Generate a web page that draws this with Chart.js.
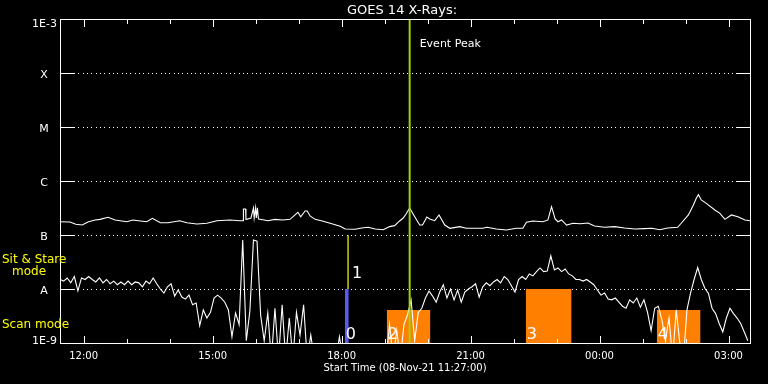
<!DOCTYPE html>
<html>
<head>
<meta charset="utf-8">
<script src="https://cdn.jsdelivr.net/npm/chart.js@4.4.0/dist/chart.umd.min.js"></script>
<style>
  html, body { margin: 0; padding: 0; background: #000; }
  #wrap { width: 768px; height: 384px; }
</style>
</head>
<body>
<div id="wrap"><canvas id="goes" width="768" height="384"></canvas></div>
<script>
// times are minutes after the start time 08-Nov-21 11:27:00
const tickMinutes = [33, 213, 393, 573, 753, 933];
const tickLabels = ['12:00', '15:00', '18:00', '21:00', '00:00', '03:00'];
const yTickVals = [1e-9, 1e-8, 1e-7, 1e-6, 1e-5, 1e-4, 1e-3];
const yTickLabels = ['1E-9', 'A', 'B', 'C', 'M', 'X', '1E-3'];

// long channel (1-8 A)
const upperTimes = [0, 14, 22, 31, 39, 49, 56, 67, 77, 93,
  102, 112, 121, 129, 140, 151, 167, 177, 191, 205,
  219, 237, 251, 255.5, 256, 259, 259.5, 266.5, 270, 271,
  273, 274, 275.5, 277, 283, 290, 300, 311, 321, 332,
  336, 342, 345, 349, 356, 366, 377, 391, 398, 412,
  421, 430, 440, 451, 460, 467, 474, 479, 483, 488,
  492, 498, 502, 506, 512, 516, 523, 529, 537, 544,
  558, 567, 590, 596, 609, 623, 637, 646, 651, 660,
  674, 681, 686, 691, 695, 700, 707, 716, 726, 737,
  746, 760, 774, 788, 802, 816, 826, 837, 848, 862,
  867, 877, 884, 888, 891, 895, 902, 914, 921, 928,
  937, 946, 956, 963];
const upperFlux = [1.76e-7, 1.74e-7, 1.58e-7, 1.53e-7, 1.74e-7, 1.9e-7, 1.95e-7, 2.13e-7, 1.9e-7, 1.76e-7,
  1.9e-7, 1.82e-7, 1.76e-7, 2.04e-7, 1.69e-7, 1.69e-7, 1.84e-7, 1.69e-7, 1.6e-7, 1.65e-7,
  1.84e-7, 1.9e-7, 1.84e-7, 1.84e-7, 3.03e-7, 3.03e-7, 1.94e-7, 2.06e-7, 3.16e-7, 2.06e-7,
  3.2e-7, 2.06e-7, 3.2e-7, 1.98e-7, 1.92e-7, 1.84e-7, 1.95e-7, 1.9e-7, 1.95e-7, 2.63e-7,
  2.18e-7, 2.78e-7, 2.78e-7, 2.25e-7, 1.95e-7, 1.82e-7, 1.65e-7, 1.45e-7, 1.29e-7, 1.28e-7,
  1.35e-7, 1.39e-7, 1.29e-7, 1.25e-7, 1.43e-7, 1.49e-7, 1.82e-7, 2.06e-7, 2.45e-7, 3.16e-7,
  2.55e-7, 1.88e-7, 1.53e-7, 1.53e-7, 2.15e-7, 1.98e-7, 1.84e-7, 2.35e-7, 1.53e-7, 1.33e-7,
  1.43e-7, 1.33e-7, 1.33e-7, 1.39e-7, 1.29e-7, 1.24e-7, 1.33e-7, 1.33e-7, 1.72e-7, 1.82e-7,
  1.76e-7, 1.9e-7, 3.34e-7, 1.98e-7, 1.76e-7, 1.9e-7, 1.53e-7, 1.65e-7, 1.62e-7, 1.67e-7,
  1.47e-7, 1.39e-7, 1.43e-7, 1.35e-7, 1.29e-7, 1.31e-7, 1.33e-7, 1.25e-7, 1.35e-7, 1.39e-7,
  1.65e-7, 2.35e-7, 3.59e-7, 4.78e-7, 5.57e-7, 4.45e-7, 3.86e-7, 2.9e-7, 2.52e-7, 1.95e-7,
  2.35e-7, 2.18e-7, 1.9e-7, 1.84e-7];

// short channel (0.5-4 A), one sample every 5 min; 5e-10 = below the plot floor
const lowerStep = 5;
const lowerFlux = [
  1.5e-8, 1.4e-8, 1.6e-8, 1.3e-8, 1.7e-8, 9.2e-9, 1.6e-8, 1.5e-8, 1.7e-8, 1.5e-8,
  1.35e-8, 1.6e-8, 1.3e-8, 1.5e-8, 1.25e-8, 1.4e-8, 1.2e-8, 1.35e-8, 1.2e-8, 1.4e-8,
  1.2e-8, 1.35e-8, 1.3e-8, 1.1e-8, 1.4e-8, 1.25e-8, 1.6e-8, 1.25e-8, 1.0e-8, 8.4e-9,
  1.1e-8, 1.25e-8, 7.4e-9, 9.6e-9, 7.1e-9, 6.5e-9, 7.7e-9, 5.1e-9, 5.5e-9, 2.1e-9,
  4.1e-9, 2.9e-9, 3.7e-9, 6.8e-9, 7.7e-9, 6.8e-9, 5.7e-9, 4.1e-9, 1.3e-9, 3.6e-9,
  2.2e-9, 8.1e-8, 1.1e-9, 3.9e-9, 8.1e-8, 7.7e-8, 3.3e-9, 1.1e-9, 3.6e-9, 5e-10,
  4.4e-9, 5e-10, 5.1e-9, 5e-10, 2.9e-9, 5e-10, 3.7e-9, 1.4e-9, 5.1e-9, 5e-10,
  1.4e-9, 5e-10, 5e-10, 5e-10, 5e-10, 5e-10, 5e-10, 5e-10, 1.3e-9, 5e-10,
  5e-10, 5e-10, 5e-10, 5e-10, 5e-10, 5e-10, 5e-10, 5e-10, 5e-10, 5e-10,
  5e-10, 5e-10, 2.2e-9, 5e-10, 1.7e-9, 5e-10, 2.2e-9, 3.3e-9, 6.3e-9, 1.1e-9,
  3.7e-9, 4.4e-9, 6.8e-9, 9.2e-9, 7.4e-9, 5.7e-9, 8.8e-9, 1.2e-8, 6.8e-9, 1.0e-8,
  6.3e-9, 9.6e-9, 5.7e-9, 8.8e-9, 1.0e-8, 1.1e-8, 1.25e-8, 7.1e-9, 1.1e-8, 1.3e-8,
  1.15e-8, 1.35e-8, 1.5e-8, 1.3e-8, 1.7e-8, 1.5e-8, 1.15e-8, 8.8e-9, 1.5e-8, 1.7e-8,
  1.5e-8, 1.9e-8, 1.75e-8, 2.1e-8, 2.45e-8, 2.1e-8, 2.15e-8, 4.1e-8, 2.25e-8, 2.45e-8,
  2.1e-8, 2.35e-8, 1.9e-8, 1.75e-8, 1.5e-8, 1.5e-8, 1.4e-8, 1.5e-8, 1.35e-8, 1.2e-8,
  9.6e-9, 7.7e-9, 8.4e-9, 6.5e-9, 6.3e-9, 6.8e-9, 5.7e-9, 4.8e-9, 4.4e-9, 6.3e-9,
  5.5e-9, 6.8e-9, 4.6e-9, 6.3e-9, 3.7e-9, 1.7e-9, 4.4e-9, 4.8e-9, 2.7e-9, 1.1e-9,
  2.9e-9, 5e-10, 4.1e-9, 1.0e-9, 5e-10, 4.1e-9, 8.4e-9, 1.5e-8, 2.5e-8, 1.5e-8,
  1.03e-8, 8.3e-9, 4.4e-9, 3.5e-9, 2.3e-9, 1.6e-9, 2.9e-9, 4.4e-9, 3.5e-9, 2.9e-9,
  2.3e-9, 1.6e-9, 1.1e-9];

// scan-mode boxes
const boxStart = [456, 650, 833];
const boxEnd = [517, 714, 894];
const boxTop = [4.1e-9, 1e-8, 4.1e-9];
const boxLabel = ['2', '3', '4'];

// sit & stare markers
const stareBar = { start: 397.5, end: 403, top: 1e-8, label: '0' };
const stareLine = { time: 402, from: 1e-8, to: 1e-7, label: '1' };

const eventPeakTime = 488;
const xMax = 963;

const FONT = '"DejaVu Sans", sans-serif';

const boxSets = boxStart.map((s, i) => ({
  data: [{ x: s, y: boxTop[i] }, { x: boxEnd[i], y: boxTop[i] }],
  borderWidth: 0,
  backgroundColor: '#ff8000',
  fill: 'start',
  pointRadius: 0,
  order: 4
}));

const datasets = [
  ...boxSets,
  {
    data: [{ x: stareBar.start, y: stareBar.top }, { x: stareBar.end, y: stareBar.top }],
    borderWidth: 0,
    backgroundColor: '#5a5af0',
    fill: 'start',
    pointRadius: 0,
    order: 3
  },
  {
    data: upperTimes.map((t, i) => ({ x: t, y: upperFlux[i] })),
    borderColor: '#ffffff',
    borderWidth: 1.1,
    pointRadius: 0,
    fill: false,
    order: 2
  },
  {
    data: lowerFlux.map((v, i) => ({ x: i * lowerStep, y: v })),
    borderColor: '#ffffff',
    borderWidth: 1.1,
    pointRadius: 0,
    fill: false,
    order: 2
  },
  {
    data: [{ x: stareLine.time, y: stareLine.from }, { x: stareLine.time, y: stareLine.to }],
    borderColor: '#ffff00',
    borderWidth: 1.2,
    pointRadius: 0,
    fill: false,
    order: 1
  },
  {
    data: [{ x: eventPeakTime, y: 1e-9 }, { x: eventPeakTime, y: 1e-3 }],
    borderColor: '#a0d010',
    borderWidth: 2,
    pointRadius: 0,
    fill: false,
    order: 0
  }
];

const goesDecor = {
  id: 'goesDecor',
  beforeDraw(chart) {
    const c = chart.ctx;
    c.save();
    c.fillStyle = '#000';
    c.fillRect(0, 0, chart.width, chart.height);
    c.restore();
  },
  beforeDatasetsDraw(chart) {
    const { ctx, chartArea: a, scales: { y } } = chart;
    ctx.save();
    ctx.fillStyle = '#fff';
    yTickVals.slice(1, -1).forEach(v => {
      const py = Math.round(y.getPixelForValue(v));
      for (let x = a.left + 14; x < a.right - 12; x += 4.33) ctx.fillRect(Math.round(x), py, 1, 1);
    });
    ctx.restore();
  },
  afterDatasetsDraw(chart) {
    const { ctx, chartArea: a, scales: { x, y } } = chart;
    const L = Math.round(a.left), R = Math.round(a.right);
    const T = Math.round(a.top), B = Math.round(a.bottom);
    ctx.save();
    ctx.fillStyle = '#fff';
    // frame
    ctx.fillRect(L, T, R - L + 1, 1);
    ctx.fillRect(L, B, R - L + 1, 1);
    ctx.fillRect(L, T, 1, B - T + 1);
    ctx.fillRect(R, T, 1, B - T + 1);
    // y ticks, both sides
    yTickVals.slice(1, -1).forEach(v => {
      const py = Math.round(y.getPixelForValue(v));
      ctx.fillRect(L, py, 14, 1);
      ctx.fillRect(R - 13, py, 14, 1);
    });
    // x ticks, hourly, top and bottom
    for (let m = tickMinutes[0]; m <= xMax; m += 60) {
      const px = Math.round(x.getPixelForValue(m));
      const len = tickMinutes.includes(m) ? 7 : 4;
      ctx.fillRect(px, B - len, 1, len);
      ctx.fillRect(px, T + 1, 1, len);
    }
    // y labels
    ctx.font = '11px ' + FONT;
    ctx.textBaseline = 'alphabetic';
    yTickVals.forEach((v, i) => {
      const py = y.getPixelForValue(v);
      const lab = yTickLabels[i];
      let by = py + 4.5;
      if (i === 0) by = py + 0.5;
      if (i === yTickVals.length - 1) by = py + 8;
      if (lab.length === 1) {
        ctx.textAlign = 'center';
        ctx.fillText(lab, 44, by);
      } else {
        ctx.textAlign = 'right';
        ctx.fillText(lab, 57, by);
      }
    });
    // title
    ctx.font = '13px ' + FONT;
    ctx.textAlign = 'center';
    ctx.fillText('GOES 14 X-Rays:', (a.left + a.right) / 2 - 3, 14);
    // event peak label
    ctx.font = '11px ' + FONT;
    ctx.textAlign = 'left';
    ctx.fillText('Event Peak', x.getPixelForValue(eventPeakTime) + 10, 47);
    // mode box labels
    ctx.font = '16px ' + FONT;
    ctx.textAlign = 'left';
    boxStart.forEach((s, i) => {
      ctx.fillText(boxLabel[i], x.getPixelForValue(s) + 1, B - 4);
    });
    ctx.fillText(stareBar.label, x.getPixelForValue(stareBar.start) + 1, B - 4);
    ctx.fillText(stareLine.label, x.getPixelForValue(stareLine.time) + 4, y.getPixelForValue(stareLine.from) - 11);
    // mode names on the left
    ctx.fillStyle = '#ffff00';
    ctx.font = '12px ' + FONT;
    ctx.textAlign = 'left';
    ctx.fillText('Sit & Stare', 2, 263);
    ctx.fillText('mode', 12, 275);
    ctx.fillText('Scan mode', 2, 328);
    ctx.restore();
  }
};

const goesChart = new Chart(document.getElementById('goes'), {
  type: 'line',
  data: { datasets: datasets },
  options: {
    responsive: false,
    animation: false,
    layout: { padding: { top: 19, right: 18, left: 0, bottom: 0 } },
    plugins: {
      legend: { display: false },
      tooltip: { enabled: false }
    },
    scales: {
      x: {
        type: 'linear',
        min: 0,
        max: xMax,
        afterBuildTicks: s => { s.ticks = tickMinutes.map(v => ({ value: v })); },
        afterFit: s => { s.height = 41; },
        ticks: {
          callback: (v, i) => tickLabels[i],
          color: '#fff',
          font: { family: FONT, size: 10 },
          padding: 7,
          maxRotation: 0,
          autoSkip: false
        },
        grid: { display: false, drawTicks: false },
        border: { display: false },
        title: {
          display: true,
          text: 'Start Time (08-Nov-21 11:27:00)',
          color: '#fff',
          font: { family: FONT, size: 10 },
          padding: { top: 0, bottom: 10 }
        }
      },
      y: {
        type: 'logarithmic',
        min: 1e-9,
        max: 1e-3,
        afterBuildTicks: s => { s.ticks = yTickVals.map(v => ({ value: v })); },
        afterFit: s => { s.width = 60; },
        ticks: { display: false },
        grid: { display: false, drawTicks: false },
        border: { display: false }
      }
    }
  },
  plugins: [goesDecor]
});
</script>
</body>
</html>
